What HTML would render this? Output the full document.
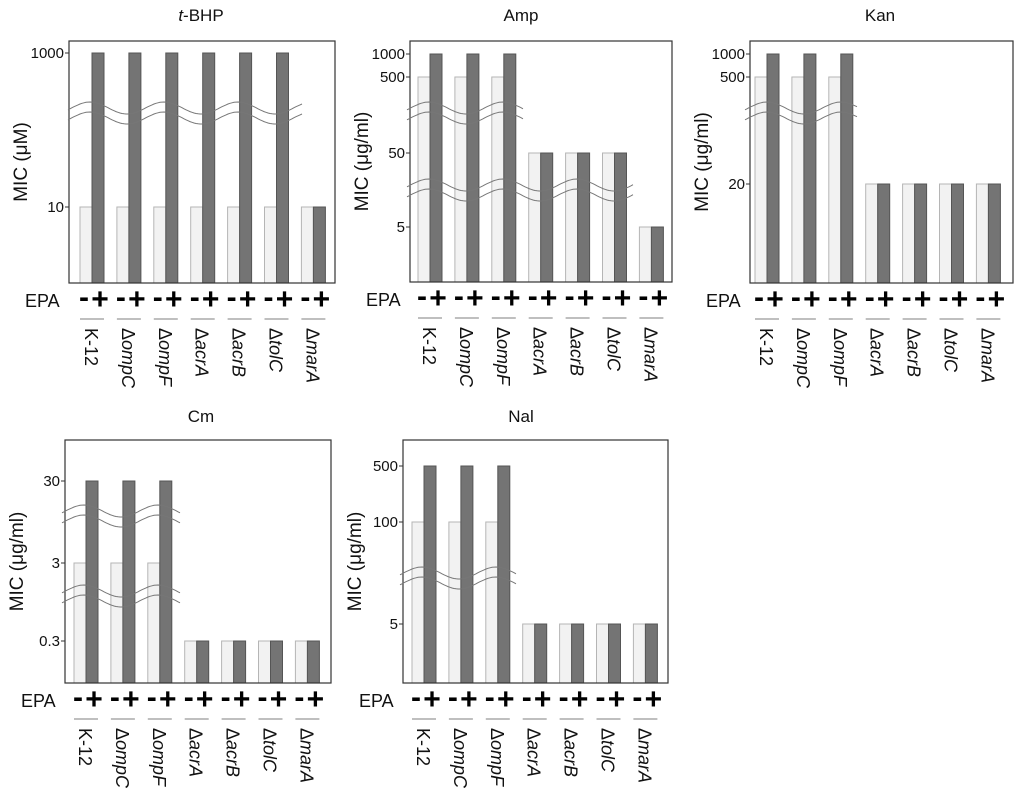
<!DOCTYPE html>
<html><head><meta charset="utf-8"><style>
body{margin:0;background:#fff;}
svg{display:block;font-family:"Liberation Sans",Arial,sans-serif;}
</style></head><body>
<svg id="chart" width="1024" height="797" viewBox="0 0 1024 797"></svg>
<script>
const strains = ["K-12","ΔompC","ΔompF","ΔacrA","ΔacrB","ΔtolC","ΔmarA"];
const italicParts = ["","ompC","ompF","acrA","acrB","tolC","marA"];
const tbhpMinus = [10,10,10,10,10,10,10];
const tbhpPlus = [1000,1000,1000,1000,1000,1000,10];
const ampMinus = [500,500,500,50,50,50,5];
const ampPlus = [1000,1000,1000,50,50,50,5];
const kanMinus = [500,500,500,20,20,20,20];
const kanPlus = [1000,1000,1000,20,20,20,20];
const cmMinus = [3,3,3,0.3,0.3,0.3,0.3];
const cmPlus = [30,30,30,0.3,0.3,0.3,0.3];
const nalMinus = [100,100,100,5,5,5,5];
const nalPlus = [500,500,500,5,5,5,5];
const tbhpTicks = [1000,10];
const ampTicks = [1000,500,50,5];
const kanTicks = [1000,500,20];
const cmTicks = [30,3,0.3];
const nalTicks = [500,100,5];

const NS="http://www.w3.org/2000/svg";
const svg=document.getElementById('chart');
function mk(tag,attrs,parent){const e=document.createElementNS(NS,tag);for(const k in attrs)e.setAttribute(k,attrs[k]);(parent||svg).appendChild(e);return e;}

const panels=[
 {name:"t-bhp",title:"t-BHP",italicT:true,ylab:"MIC (μM)",x0:69,x1:335,top:41,bot:283,ticks:tbhpTicks,tickY:[53,207],minus:tbhpMinus,plus:tbhpPlus,gx:80,waves:[[113,68,303]],tx:201,ty:21},
 {name:"amp",title:"Amp",ylab:"MIC (μg/ml)",x0:410,x1:672,top:41,bot:282,ticks:ampTicks,tickY:[54,77,153,227],minus:ampMinus,plus:ampPlus,gx:418,waves:[[113,407,523],[190,407,633]],tx:521,ty:21},
 {name:"kan",title:"Kan",ylab:"MIC (μg/ml)",x0:750,x1:1013,top:41,bot:283,ticks:kanTicks,tickY:[54,77,184],minus:kanMinus,plus:kanPlus,gx:755,waves:[[113,745,857]],tx:880,ty:21},
 {name:"cm",title:"Cm",ylab:"MIC (μg/ml)",x0:65,x1:331,top:440,bot:683,ticks:cmTicks,tickY:[481,563,641],minus:cmMinus,plus:cmPlus,gx:74,waves:[[516,62,180],[596,62,180]],tx:201,ty:422},
 {name:"nal",title:"Nal",ylab:"MIC (μg/ml)",x0:403,x1:668,top:440,bot:683,ticks:nalTicks,tickY:[466,522,624],minus:nalMinus,plus:nalPlus,gx:412,waves:[[578,400,517]],tx:521,ty:422}
];
const step=36.9, bw=12;

panels.forEach(p=>{
 const g=mk('g',{});  
 function yOf(v){
  const t=p.ticks,ty=p.tickY,L=Math.log10(v);
  for(let i=0;i<t.length-1;i++){
   const a=Math.log10(t[i]),b=Math.log10(t[i+1]);
   if(L<=a&&L>=b) return ty[i]+(a-L)/(a-b)*(ty[i+1]-ty[i]);
  }
  if(L>Math.log10(t[0])) return ty[0]-20;
  return ty[ty.length-1]+20;
 }
 const tt=mk('text',{x:p.tx,y:p.ty,'text-anchor':'middle','font-size':17,fill:'#111'},g);
 
 if(p.italicT){tt.innerHTML='<tspan font-style="italic">t</tspan>-BHP';}else tt.textContent=p.title;
 const yl=mk('text',{x:0,y:0,transform:`translate(${p.x0-42},${(p.top+p.bot)/2}) rotate(-90)`,'text-anchor':'middle','font-size':19,fill:'#111'},g);
 
 yl.textContent=p.ylab;
 for(let i=0;i<strains.length;i++){
  const xm=p.gx+i*step, xp=xm+bw;
  const ym=yOf(p.minus[i]), yp=yOf(p.plus[i]);
  const r1=mk('rect',{x:xm,y:ym,width:bw,height:p.bot-ym,fill:'#f2f2f2',stroke:'#b5b5b5','stroke-width':1},g);
  
  const r2=mk('rect',{x:xp,y:yp,width:bw,height:p.bot-yp,fill:'#747474',stroke:'#555','stroke-width':1},g);
  
  const mt=mk('text',{x:xm+bw/2-2,y:p.bot+24,'text-anchor':'middle','font-size':30,'font-weight':'bold',fill:'#000'},g);
  mt.textContent='-';
  const pt=mk('text',{x:xp+bw/2+2,y:p.bot+26,'text-anchor':'middle','font-size':30,'font-weight':'bold',fill:'#000'},g);
  pt.textContent='+';
  const sl=mk('line',{x1:xm,x2:xp+bw,y1:p.bot+36,y2:p.bot+36,stroke:'#aaa','stroke-width':1.5},g);
  
  const lb=mk('text',{x:0,y:0,transform:`translate(${xm+bw-7},${p.bot+45}) rotate(90)`,'font-size':18,fill:'#111'},g);
  
  if(i===0) lb.textContent=strains[0]; else lb.innerHTML='Δ<tspan font-style="italic">'+italicParts[i]+'</tspan>';
 }
 const box=mk('rect',{x:p.x0,y:p.top,width:p.x1-p.x0,height:p.bot-p.top,fill:'none',stroke:'#333','stroke-width':1.2},g);
 
 p.ticks.forEach((t,k)=>{
  const y=p.tickY[k];
  mk('line',{x1:p.x0-4,x2:p.x0,y1:y,y2:y,stroke:'#333'},g);
  const tl=mk('text',{x:p.x0-5,y:y+5,'text-anchor':'end','font-size':15,fill:'#111'},g);
  tl.textContent=t;
 });
 p.waves.forEach(w=>{
  [-5,5].forEach(off=>{
   let d='';for(let x=w[1];x<=w[2];x+=2){const y=w[0]+off-6*Math.cos((x-w[1]-22)/37*Math.PI);d+=(d?'L':'M')+x+','+y.toFixed(1);}
   const pa=mk('path',{d:d,fill:'none',stroke:'#777','stroke-width':1},g);
   
  });
 });
 const ep=mk('text',{x:p.x0-44,y:p.bot+24,'font-size':18,fill:'#111'},g);
 ep.textContent='EPA';
});
</script>
</body></html>
